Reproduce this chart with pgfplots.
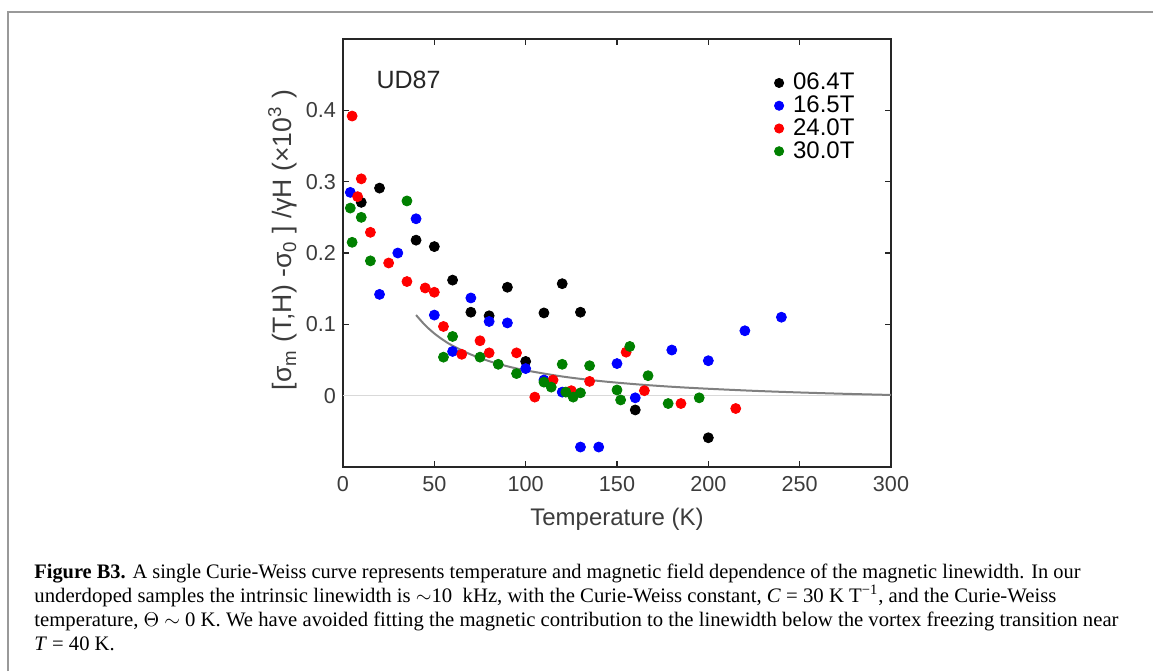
\documentclass[border=0pt]{standalone}
\usepackage{graphicx}
\usepackage{fontspec}
\setmainfont{Liberation Sans}
\newfontfamily\capfont{Liberation Serif}
\usepackage{pgfplots}
\pgfplotsset{compat=1.18}
\definecolor{axgray}{HTML}{262626}
\definecolor{ticklab}{HTML}{3C3C3C}
\definecolor{mgreen}{RGB}{0,128,0}
\begin{document}
\begin{tikzpicture}
\useasboundingbox (0,0) rectangle (576.5pt,-335.5pt);
\draw[gray!80, line width=0.8pt] (4pt,-335.5pt) -- (4pt,-6pt) -- (576.5pt,-6pt);
\begin{axis}[
  at={(171.5pt,-233.5pt)}, anchor=south west,
  width=274pt, height=214pt, scale only axis,
  xmin=0, xmax=300, ymin=-0.1, ymax=0.5,
  xtick={0,50,...,300}, ytick={0,0.1,0.2,0.3,0.4},
  tick align=inside, major tick length=3pt,
  axis line style={axgray, line width=0.8pt},
  every tick/.style={axgray, line width=0.8pt},
  /pgf/number format/assume math mode=true,
  tick label style={font=\fontsize{10.8}{12}\selectfont, text=ticklab},
  xticklabel style={yshift=-1pt},
  label style={font=\fontsize{12}{14}\selectfont, text=ticklab},
  xlabel={Temperature (K)},
  xlabel style={at={(axis description cs:0.5,-0.122)}, anchor=center},
  ylabel={[σ\textsubscript{m} (T,H) -σ\textsubscript{0} ] /γH (×10\textsuperscript{3} )},
  ylabel style={at={(axis description cs:-0.11,0.53)}, anchor=center, font=\fontsize{13.3}{15}\selectfont},
  legend style={draw=none, fill=none, font=\fontsize{12}{13}\selectfont,
    at={(axis description cs:0.775,0.94)}, anchor=north west, row sep=-2.5pt,
    nodes={inner xsep=1.5pt}},
  legend cell align=left,
  legend image code/.code={\path[draw=none, fill=none] (-2.3pt,0) -- (5.5pt,0); \fill[#1] (0.0cm,0cm) circle (2.3pt);},
  clip=false,
]
\addplot[gray!30, line width=0.5pt, forget plot] coordinates {(0,0) (300,0)};
\addplot[only marks, mark=*, mark size=2.5pt, black, mark options={draw=black, fill=black}] coordinates {
(10,0.271) (20,0.291) (40,0.218) (50,0.209) (60,0.162) (70,0.117) (80,0.112)
(90,0.152) (100,0.048) (110,0.116) (120,0.157) (130,0.117) (160,-0.020) (200,-0.059)};
\addlegendentry{06.4T}
\addplot[only marks, mark=*, mark size=2.5pt, blue, mark options={draw=blue, fill=blue}] coordinates {
(4,0.285) (20,0.142) (30,0.200) (40,0.248) (50,0.113) (60,0.062) (70,0.137) (80,0.104)
(90,0.102) (100,0.038) (110,0.022) (120,0.005) (130,-0.072) (140,-0.072) (150,0.045)
(160,-0.003) (180,0.064) (200,0.049) (220,0.091) (240,0.110)};
\addlegendentry{16.5T}
\addplot[only marks, mark=*, mark size=2.5pt, red, mark options={draw=red, fill=red}] coordinates {
(5,0.392) (8,0.279) (10,0.304) (15,0.229) (25,0.186) (35,0.160) (45,0.151) (50,0.145)
(55,0.097) (65,0.058) (75,0.077) (80,0.060) (95,0.060) (105,-0.002) (115,0.022)
(125,0.007) (135,0.020) (155,0.061) (165,0.007) (185,-0.011) (215,-0.018)};
\addlegendentry{24.0T}
\addplot[only marks, mark=*, mark size=2.5pt, mgreen, mark options={draw=mgreen, fill=mgreen}] coordinates {
(4,0.263) (5,0.215) (10,0.250) (15,0.189) (35,0.273) (55,0.054) (60,0.083) (75,0.054)
(85,0.044) (95,0.031) (110,0.019) (114,0.012) (120,0.044) (122,0.005) (126,-0.002)
(130,0.004) (135,0.042) (150,0.008) (152,-0.006) (157,0.069) (167,0.028) (178,-0.011)
(195,-0.003)};
\addlegendentry{30.0T}
\addplot[gray, line width=1pt, smooth, forget plot] coordinates {
(40,0.1130) (45,0.0987) (50,0.0872) (55,0.0778) (60,0.0700) (70,0.0577) (80,0.0484)
(90,0.0412) (100,0.0355) (120,0.0269) (140,0.0207) (160,0.0161) (180,0.0125)
(200,0.0097) (225,0.0068) (250,0.0045) (275,0.0026) (300,0.0010)};
\node[anchor=west, font=\fontsize{12.5}{14}\selectfont, text=axgray] at (axis cs:14.5,0.443) {UD87};
\end{axis}
\begin{scope}[every node/.style={anchor=base west, inner sep=0pt, font=\capfont\fontsize{10.3}{12}\selectfont}]
\node at (17pt,-289pt) {\resizebox{523pt}{\height}{\textbf{Figure B3.} A single Curie-Weiss curve represents temperature and magnetic field dependence of the magnetic linewidth. In our}};
\node at (17pt,-301pt) {\resizebox{511pt}{\height}{underdoped samples the intrinsic linewidth is $\sim$10\ \ kHz, with the Curie-Weiss constant, \textit{C} = 30 K T\textsuperscript{−1}, and the Curie-Weiss}};
\node at (17pt,-313pt) {\resizebox{542pt}{\height}{temperature, $\Theta$ $\sim$ 0 K. We have avoided fitting the magnetic contribution to the linewidth below the vortex freezing transition near}};
\node at (17pt,-325pt) {\textit{T} = 40 K.};
\end{scope}
\end{tikzpicture}
\end{document}
